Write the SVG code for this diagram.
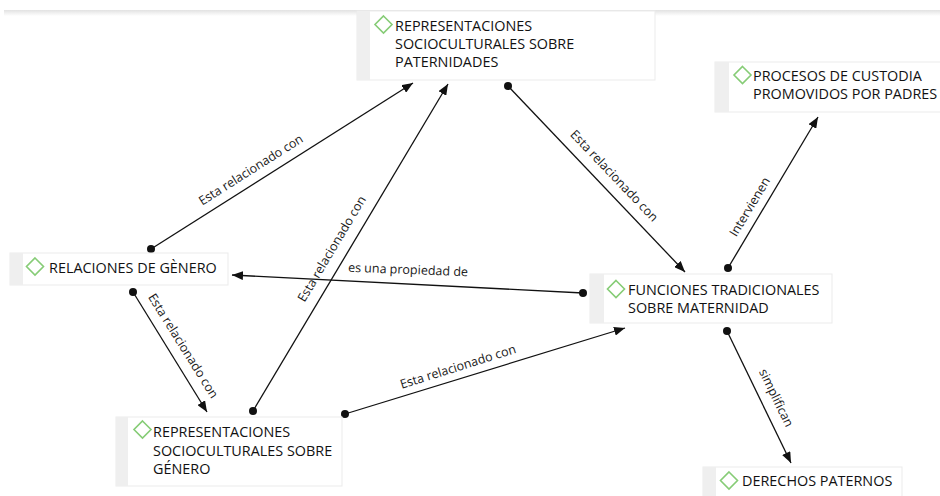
<svg xmlns="http://www.w3.org/2000/svg" width="940" height="496" viewBox="0 0 940 496">
<defs>
<linearGradient id="topband" x1="0" y1="0" x2="0" y2="1">
<stop offset="0" stop-color="#e2e2e2"/>
<stop offset="1" stop-color="#ffffff"/>
</linearGradient>
<marker id="arrow" markerUnits="userSpaceOnUse" markerWidth="11" markerHeight="9" refX="11" refY="4.5" orient="auto">
<path d="M0,0 L11,4.5 L0,9 z" fill="#111"/>
</marker>
<style>
.box{fill:#ffffff;stroke:#ebebeb;stroke-width:1}
.strip{fill:#efefef}
.dia{fill:#ffffff;stroke:#86cc76;stroke-width:1.6}
.nt{font-family:"Open Sans","Noto Sans",sans-serif;font-size:14.4px;fill:#111}
.lbl{font-family:"Open Sans","Noto Sans",sans-serif;font-size:12.5px;fill:#1a1a1a;text-anchor:middle}
.edge{stroke:#111;stroke-width:1.3;fill:none;marker-end:url(#arrow)}
.dot{fill:#111}
</style>
</defs>
<rect width="940" height="496" fill="#ffffff"/>
<rect x="4" y="10" width="936" height="6" fill="url(#topband)"/>

<g id="connectors">
<line class="edge" x1="151" y1="249" x2="413" y2="83"/>
<circle class="dot" cx="151" cy="249" r="4"/>
<line class="edge" x1="253" y1="411" x2="448" y2="84"/>
<circle class="dot" cx="253" cy="411" r="4"/>
<line class="edge" x1="508" y1="86" x2="685" y2="272"/>
<circle class="dot" cx="508" cy="86" r="4"/>
<line class="edge" x1="583" y1="293" x2="232" y2="275"/>
<circle class="dot" cx="583" cy="293" r="4"/>
<line class="edge" x1="133" y1="292" x2="207" y2="412"/>
<circle class="dot" cx="133" cy="292" r="4"/>
<line class="edge" x1="345" y1="414" x2="625" y2="328"/>
<circle class="dot" cx="345" cy="414" r="4"/>
<line class="edge" x1="728" y1="268" x2="818" y2="117"/>
<circle class="dot" cx="728" cy="268" r="4"/>
<line class="edge" x1="727" y1="331" x2="791" y2="463"/>
<circle class="dot" cx="727" cy="331" r="4"/>

<text class="lbl" transform="translate(251,170) rotate(-32.4)" y="4">Esta relacionado con</text>
<text class="lbl" transform="translate(332,249) rotate(-59.2)" y="4">Esta relacionado con</text>
<text class="lbl" transform="translate(614,176) rotate(46.4)" y="4">Esta relacionado con</text>
<text class="lbl" transform="translate(408,270) rotate(2.2)" y="4">es una propiedad de</text>
<text class="lbl" transform="translate(183,346) rotate(58)" y="4">Esta relacionado con</text>
<text class="lbl" transform="translate(458,367) rotate(-17.4)" y="4">Esta relacionado con</text>
<text class="lbl" transform="translate(750,207) rotate(-59)" y="4">Intervienen</text>
<text class="lbl" transform="translate(776,398) rotate(64)" y="4">simplifican</text>
</g>

<g id="node-rep-paternidades">
<rect class="box" x="357" y="11" width="298" height="69"/>
<rect class="strip" x="357" y="11" width="13" height="69"/>
<polygon class="dia" points="383.5,16 392,24.5 383.5,33 375,24.5"/>
<text class="nt" x="395" y="31">REPRESENTACIONES</text>
<text class="nt" x="395" y="49">SOCIOCULTURALES SOBRE</text>
<text class="nt" x="395" y="67">PATERNIDADES</text>
</g>

<g id="node-procesos">
<rect class="box" x="715" y="62" width="230" height="50"/>
<rect class="strip" x="715" y="62" width="14" height="50"/>
<polygon class="dia" points="742.5,66.5 751,75 742.5,83.5 734,75"/>
<text class="nt" x="753" y="81">PROCESOS DE CUSTODIA</text>
<text class="nt" x="753" y="99">PROMOVIDOS POR PADRES</text>
</g>

<g id="node-relaciones">
<rect class="box" x="10" y="253" width="218" height="32"/>
<rect class="strip" x="10" y="253" width="13" height="32"/>
<polygon class="dia" points="35,258 43.5,266.5 35,275 26.5,266.5"/>
<text class="nt" x="49" y="273">RELACIONES DE GÈNERO</text>
</g>

<g id="node-funciones">
<rect class="box" x="590" y="274" width="242" height="49"/>
<rect class="strip" x="590" y="274" width="14" height="49"/>
<polygon class="dia" points="616,280.5 624.5,289 616,297.5 607.5,289"/>
<text class="nt" x="628" y="295">FUNCIONES TRADICIONALES</text>
<text class="nt" x="628" y="313">SOBRE MATERNIDAD</text>
</g>

<g id="node-rep-genero">
<rect class="box" x="116" y="417" width="226" height="69"/>
<rect class="strip" x="116" y="417" width="12" height="69"/>
<polygon class="dia" points="142.5,421 151,429.5 142.5,438 134,429.5"/>
<text class="nt" x="153" y="437">REPRESENTACIONES</text>
<text class="nt" x="153" y="455.5">SOCIOCULTURALES SOBRE</text>
<text class="nt" x="153" y="474">GÉNERO</text>
</g>

<g id="node-derechos">
<rect class="box" x="703" y="467" width="199" height="35"/>
<rect class="strip" x="703" y="467" width="13" height="35"/>
<polygon class="dia" points="729,472 737.5,480.5 729,489 720.5,480.5"/>
<text class="nt" x="742" y="486">DERECHOS PATERNOS</text>
</g>
</svg>
